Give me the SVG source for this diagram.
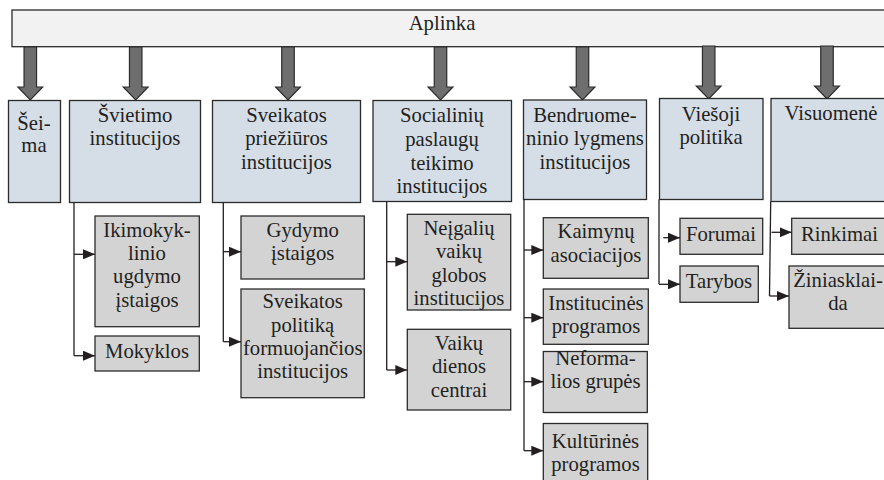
<svg xmlns="http://www.w3.org/2000/svg" xmlns:xlink="http://www.w3.org/1999/xlink" width="884" height="480" viewBox="0 0 884 480">
<style>
text{font-family:'Liberation Serif','Times New Roman',serif;font-size:20.7px;fill:#231f20;text-anchor:middle}
.top{fill:#f2f2f2;stroke:#2b2b2b;stroke-width:1.3}
.l1{fill:#d5dde6;stroke:#2b2b2b;stroke-width:1.3}
.l2{fill:#d3d3d3;stroke:#2b2b2b;stroke-width:1.3}
.big{fill:#6e6e6e;stroke:#2b2b2b;stroke-width:1.2}
.c{fill:none;stroke:#231f20;stroke-width:1.3}
</style>
<defs>
<path id="bigarrow" d="M-6.25,0 L6.25,0 L6.25,40 L12.4,40 L0,53 L-12.4,40 L-6.25,40 Z"/>
<marker id="ah" markerWidth="12" markerHeight="10" refX="12" refY="5" orient="auto" markerUnits="userSpaceOnUse">
<path d="M0,0 L12,5 L0,10 Z" fill="#231f20"/>
</marker>
</defs>
<rect width="884" height="480" fill="#ffffff"/>

<g id="aplinka">
<rect class="top" x="12" y="10" width="880" height="36.7"/>
<text x="442" y="30">Aplinka</text>
</g>

<g id="big-arrows">
<use href="#bigarrow" xlink:href="#bigarrow" class="big" x="30.3" y="47"/>
<use href="#bigarrow" xlink:href="#bigarrow" class="big" x="135.7" y="47"/>
<use href="#bigarrow" xlink:href="#bigarrow" class="big" x="288" y="47"/>
<use href="#bigarrow" xlink:href="#bigarrow" class="big" x="440.5" y="47"/>
<use href="#bigarrow" xlink:href="#bigarrow" class="big" x="582.5" y="47"/>
<use href="#bigarrow" xlink:href="#bigarrow" class="big" x="708.7" y="46"/>
<use href="#bigarrow" xlink:href="#bigarrow" class="big" x="827" y="46"/>
</g>

<g id="seima">
<rect class="l1" x="8.5" y="100.5" width="52" height="102"/>
<text x="34" y="129.5">Šei-</text>
<text x="34" y="152">ma</text>
</g>
<g id="svietimo">
<rect class="l1" x="69.5" y="100.5" width="131" height="102"/>
<text x="135" y="121.5">Švietimo</text>
<text x="135" y="145">institucijos</text>
</g>
<g id="sveikatos">
<rect class="l1" x="212.5" y="100.5" width="148" height="102"/>
<text x="286.5" y="121.5">Sveikatos</text>
<text x="286.5" y="145">priežiūros</text>
<text x="286.5" y="168.5">institucijos</text>
</g>
<g id="socialiniu">
<rect class="l1" x="373" y="100.5" width="138.5" height="101"/>
<text x="442" y="122">Socialinių</text>
<text x="442" y="146">paslaugų</text>
<text x="442" y="169.5">teikimo</text>
<text x="442" y="193">institucijos</text>
</g>
<g id="bendruomeninio">
<rect class="l1" x="523.5" y="100" width="123" height="99.5"/>
<text x="585" y="121.5">Bendruome-</text>
<text x="585" y="145">ninio lygmens</text>
<text x="585" y="168.5">institucijos</text>
</g>
<g id="viesoji">
<rect class="l1" x="659.5" y="98.5" width="103.5" height="101"/>
<text x="711" y="121">Viešoji</text>
<text x="711" y="144">politika</text>
</g>
<g id="visuomene">
<rect class="l1" x="771" y="98.5" width="120" height="103"/>
<text x="831" y="119.5">Visuomenė</text>
</g>

<g id="ikimokyklinio">
<rect class="l2" x="95" y="216" width="104.3" height="110.7"/>
<text x="147" y="236.7">Ikimokyk-</text>
<text x="147" y="260">linio</text>
<text x="147" y="283.3">ugdymo</text>
<text x="147" y="306.7">įstaigos</text>
</g>
<g id="mokyklos">
<rect class="l2" x="95" y="336" width="104.3" height="35"/>
<text x="147" y="357.5">Mokyklos</text>
</g>
<g id="gydymo">
<rect class="l2" x="241" y="216" width="123.3" height="63"/>
<text x="302.7" y="236.7">Gydymo</text>
<text x="302.7" y="260">įstaigos</text>
</g>
<g id="sveikatos-politika">
<rect class="l2" x="241" y="289" width="123.3" height="108.7"/>
<text x="302.7" y="308.3">Sveikatos</text>
<text x="302.7" y="331.7">politiką</text>
<text x="302.7" y="354.8">formuojančios</text>
<text x="302.7" y="378.3">institucijos</text>
</g>
<g id="neigaliu">
<rect class="l2" x="407.3" y="214.3" width="103.4" height="95.7"/>
<text x="459" y="235">Neįgalių</text>
<text x="459" y="258.3">vaikų</text>
<text x="459" y="281.7">globos</text>
<text x="459" y="305">institucijos</text>
</g>
<g id="vaiku-dienos">
<rect class="l2" x="407.3" y="329.3" width="103.4" height="80.7"/>
<text x="459" y="350">Vaikų</text>
<text x="459" y="373.3">dienos</text>
<text x="459" y="396.5">centrai</text>
</g>
<g id="kaimynu">
<rect class="l2" x="543.3" y="217.7" width="105" height="60.6"/>
<text x="596" y="238.3">Kaimynų</text>
<text x="596" y="261.7">asociacijos</text>
</g>
<g id="institucines">
<rect class="l2" x="543.3" y="289" width="105" height="55.3"/>
<text x="596" y="310">Institucinės</text>
<text x="596" y="332.5">programos</text>
</g>
<g id="neformalios">
<rect class="l2" x="543.3" y="351.5" width="104" height="61"/>
<text x="595.5" y="365">Neforma-</text>
<text x="595.5" y="388.3">lios grupės</text>
</g>
<g id="kulturines">
<rect class="l2" x="543.3" y="423.5" width="104.4" height="70"/>
<text x="595.5" y="447.5">Kultūrinės</text>
<text x="595.5" y="470.5">programos</text>
</g>
<g id="forumai">
<rect class="l2" x="680" y="218.3" width="82.7" height="36"/>
<text x="721" y="240.5">Forumai</text>
</g>
<g id="tarybos">
<rect class="l2" x="680" y="266" width="78.3" height="36.3"/>
<text x="719" y="287.5">Tarybos</text>
</g>
<g id="rinkimai">
<rect class="l2" x="791.7" y="218.3" width="95" height="36"/>
<text x="839.5" y="240.5">Rinkimai</text>
</g>
<g id="ziniasklaida">
<rect class="l2" x="789" y="266" width="98" height="62.3"/>
<text x="838" y="287">Žiniasklai-</text>
<text x="838" y="310">da</text>
</g>

<g id="connectors">
<path class="c" d="M74,202.7 V355.7"/>
<path class="c" d="M74,254.3 H95" marker-end="url(#ah)"/>
<path class="c" d="M74,355.7 H95" marker-end="url(#ah)"/>
<path class="c" d="M223.3,202.7 V341.7"/>
<path class="c" d="M223.3,251.7 H241" marker-end="url(#ah)"/>
<path class="c" d="M223.3,341.7 H241" marker-end="url(#ah)"/>
<path class="c" d="M386.7,201.5 V370"/>
<path class="c" d="M386.7,261.7 H407.3" marker-end="url(#ah)"/>
<path class="c" d="M386.7,370 H407.3" marker-end="url(#ah)"/>
<path class="c" d="M524,199.5 V450.7"/>
<path class="c" d="M524,250 H543.3" marker-end="url(#ah)"/>
<path class="c" d="M524,317.7 H543.3" marker-end="url(#ah)"/>
<path class="c" d="M524,381.7 H543.3" marker-end="url(#ah)"/>
<path class="c" d="M524,450.7 H543.3" marker-end="url(#ah)"/>
<path class="c" d="M659,199.5 V284.3"/>
<path class="c" d="M663.3,237.7 H680" marker-end="url(#ah)"/>
<path class="c" d="M659,284.3 H680" marker-end="url(#ah)"/>
<path class="c" d="M770.7,201.5 L769.5,296"/>
<path class="c" d="M771.5,232.3 H791.7" marker-end="url(#ah)"/>
<path class="c" d="M769.5,296 H789" marker-end="url(#ah)"/>
</g>
</svg>
